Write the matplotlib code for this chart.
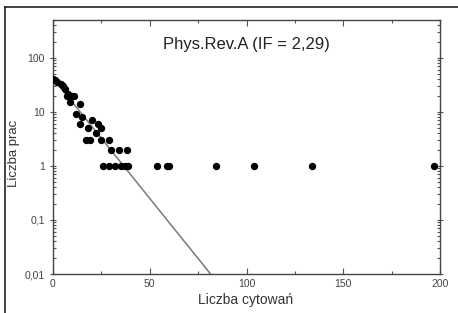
import matplotlib
matplotlib.use("Agg")
import matplotlib.pyplot as plt
from matplotlib.lines import Line2D
from matplotlib.ticker import FixedLocator, LogLocator, NullFormatter
import numpy as np

plt.rcParams['font.family'] = ['Liberation Sans', 'DejaVu Sans']

# citations per paper (x) and number of papers (y)
citations = [0, 1, 2, 4, 5, 6, 7, 8, 10, 11, 9, 14, 12, 15, 14, 20, 18, 23, 22, 25,
             17, 19, 25, 29, 30, 34, 38,
             26, 29, 32, 35, 37, 39, 54, 59, 60, 84, 104, 134, 197]
papers = [40, 38, 35, 33, 30, 27, 20, 21, 20, 20, 15, 14, 9, 8, 6, 7, 5, 6, 4, 5,
          3, 3, 3, 3, 2, 2, 2,
          1, 1, 1, 1, 1, 1, 1, 1, 1, 1, 1, 1, 1]

# fitted exponential: papers = a * 10**(-b * citations)
fit_a = 42
fit_b = 0.0445
fit_x = [0, 82]

title = "Phys.Rev.A (IF = 2,29)"
x_ticks = [0, 50, 100, 150, 200]
y_ticks = [0.01, 0.1, 1, 10, 100]
y_labels = ["0,01", "0,1", "1", "10", "100"]

fig = plt.figure(figsize=(4.58, 3.13), dpi=100)
ax = fig.add_axes([53 / 458, 1 - 274 / 313, 387 / 458, 254 / 313])

fx = np.array(fit_x, dtype=float)
ax.plot(fx, fit_a * 10 ** (-fit_b * fx), color="#7a7a7a", lw=1.1, zorder=2)
ax.scatter(citations, papers, s=28, color="black", zorder=3, linewidths=0)

ax.set_yscale("log")
ax.set_xlim(0, 200)
ax.set_ylim(0.01, 500)

ax.xaxis.set_major_locator(FixedLocator(x_ticks))
ax.xaxis.set_minor_locator(FixedLocator([25, 75, 125, 175]))
ax.set_yticks(y_ticks)
ax.set_yticklabels(y_labels)
ax.yaxis.set_minor_locator(LogLocator(base=10, subs=np.arange(2, 10)))
ax.yaxis.set_minor_formatter(NullFormatter())

grey = "#555555"
ax.tick_params(axis="both", which="both", top=True, right=True, direction="in",
               colors=grey, labelcolor="#444444", labelsize=7.5, width=0.8)
ax.tick_params(axis="both", which="major", length=4)
ax.tick_params(axis="both", which="minor", length=2.5)
ax.tick_params(axis="y", which="major", left=True, direction="inout", length=5)
for sp in ax.spines.values():
    sp.set_color("#444444")
    sp.set_linewidth(1.0)

ax.text(0.50, 0.905, title, transform=ax.transAxes, ha="center", va="center",
        fontsize=12, color="#222222")
ax.set_xlabel("Liczba cytowań", fontsize=10, color="#333333")
ax.set_ylabel("Liczba prac", fontsize=9.5, color="#333333")
ax.xaxis.set_label_coords((246 - 53) / 387, (274 - 300) / 254)
ax.yaxis.set_label_coords((13.5 - 53) / 387, (274 - 153) / 254)
ax.xaxis.label.set_va("center")
ax.yaxis.label.set_va("center")

# scanned page frame (top and left edges only are visible)
fig.add_artist(Line2D([5 / 458, 1], [1 - 7 / 313, 1 - 7 / 313], color="#222222", lw=1.2))
fig.add_artist(Line2D([5 / 458, 5 / 458], [0, 1 - 7 / 313], color="#222222", lw=1.2))

fig.savefig("out.png", dpi=100)
